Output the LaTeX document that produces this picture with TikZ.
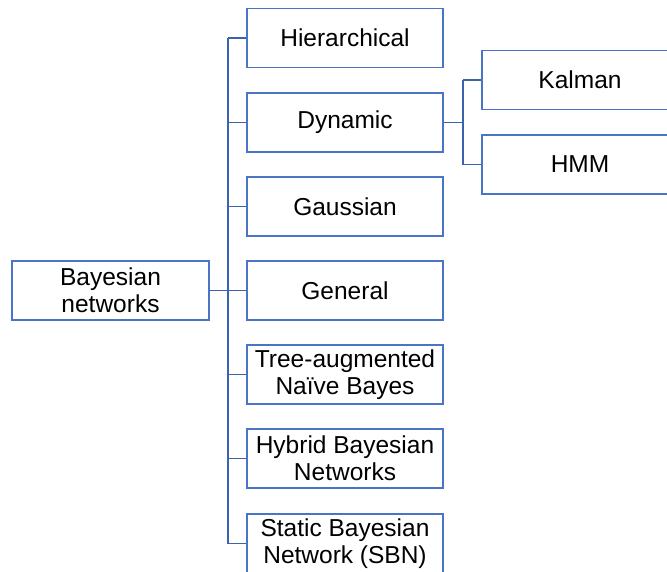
\documentclass[tikz,border=0pt]{standalone}
\usepackage{fontspec}
\setmainfont{Liberation Sans}
\begin{document}
\begin{tikzpicture}[x=1pt,y=-1pt,
  catbox/.style={draw=boxblue, line width=1.3pt, fill=white, rectangle,
    minimum width=196pt, minimum height=59pt, inner sep=0pt, align=center,
    font=\fontsize{24.5}{27}\selectfont, text=black},
  conn/.style={draw=lineblue, line width=1.6pt}]
\definecolor{boxblue}{HTML}{4A75C6}
\definecolor{lineblue}{HTML}{3A62AD}
\useasboundingbox (0,0) rectangle (667,571);
\clip (0,0) rectangle (667,571);

% root and first level
\node[catbox, minimum width=197pt] (root) at (110.5,290.5) {Bayesian\\networks};
\node[catbox] (hier) at (345,38)    {Hierarchical};
\node[catbox] (dyn)  at (345,122.5) {Dynamic};
\node[catbox] (gau)  at (345,206.5) {Gaussian};
\node[catbox] (gen)  at (345,290.5) {General};
\node[catbox] (tan)  at (345,374.5) {Tree-augmented\\Naïve Bayes};
\node[catbox] (hyb)  at (345,458.5) {Hybrid Bayesian\\Networks};
\node[catbox] (sbn)  at (345,543.5) {Static Bayesian\\Network (SBN)};

% second level under Dynamic
\node[catbox] (kal) at (580,80)  {Kalman};
\node[catbox] (hmm) at (580,164.5) {HMM};

% trunk positions
\coordinate (tx) at (228,0);
\coordinate (sx) at (463,0);

% main trunk
\draw[conn] (root.east) -- (tx |- root.east);
\draw[conn] (tx |- hier.west) -- (tx |- sbn.west);
\foreach \c in {hier,dyn,gau,gen,tan,hyb,sbn}
  \draw[conn] (tx |- \c.west) -- (\c.west);

% sub trunk
\draw[conn] (dyn.east) -- (sx |- dyn.east);
\draw[conn] (sx |- kal.west) -- (sx |- hmm.west);
\draw[conn] (sx |- kal.west) -- (kal.west);
\draw[conn] (sx |- hmm.west) -- (hmm.west);
\end{tikzpicture}
\end{document}
